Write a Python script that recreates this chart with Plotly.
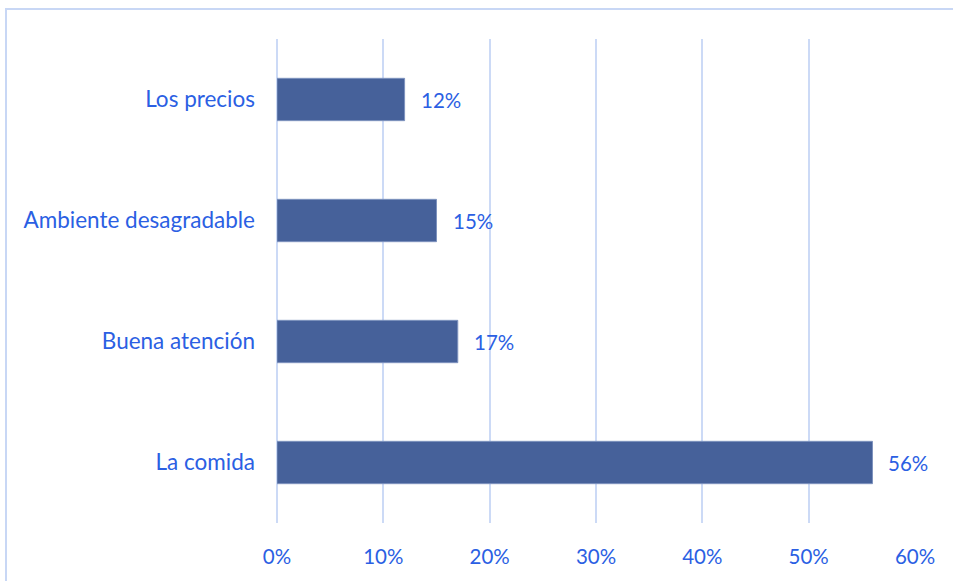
import plotly.graph_objects as go

# Survey results: what customers value most
categories = ["La comida", "Buena atención", "Ambiente desagradable", "Los precios"]
values = [56, 17, 15, 12]
x_ticks = [0, 10, 20, 30, 40, 50, 60]
x_tick_labels = ["0%", "10%", "20%", "30%", "40%", "50%", "60%"]

W, H = 953, 581
ML, MR, MT, MB = 277, 38, 39, 58
text_color = "#2B5FE3"
bar_color = "#46619A"
grid_color = "#CCDAF6"
font_family = "Lato, 'Open Sans', sans-serif"

fig = go.Figure(
    go.Bar(
        x=values,
        y=categories,
        orientation="h",
        width=0.35,
        marker=dict(color=bar_color, line=dict(color="#7E93BE", width=1)),
        hoverinfo="skip",
    )
)

# value labels to the right of each bar
for c, v in zip(categories, values):
    fig.add_annotation(
        x=v, y=c, text=f"{v}%", showarrow=False,
        xanchor="left", xshift=14,
        font=dict(family=font_family, size=20.5, color=text_color),
    )

# chart frame
pw = W - ML - MR
ph = H - MT - MB
fig.add_shape(
    type="rect", xref="paper", yref="paper",
    x0=(6 - ML) / pw, x1=(W + 10 - ML) / pw,
    y0=1 - (H + 10 - MT) / ph, y1=1 - (9 - MT) / ph,
    line=dict(color="#C8D7F5", width=2), fillcolor="rgba(0,0,0,0)",
    layer="below",
)

fig.update_layout(
    width=W, height=H,
    margin=dict(l=ML, r=MR, t=MT, b=MB),
    plot_bgcolor="white", paper_bgcolor="white",
    showlegend=False,
    xaxis=dict(
        range=[0, 60], tickvals=x_ticks, ticktext=x_tick_labels,
        showgrid=True, gridcolor=grid_color, gridwidth=2,
        zeroline=True, zerolinecolor=grid_color, zerolinewidth=2,
        showline=False, ticks="", ticklabelstandoff=19,
        tickfont=dict(family=font_family, size=20.5, color=text_color),
        fixedrange=True,
    ),
    yaxis=dict(
        categoryorder="array", categoryarray=categories,
        showgrid=False, zeroline=False, showline=False, ticks="",
        ticklabelstandoff=21,
        tickfont=dict(family=font_family, size=22.5, color=text_color),
        fixedrange=True,
    ),
)

fig.write_html("out.html")
